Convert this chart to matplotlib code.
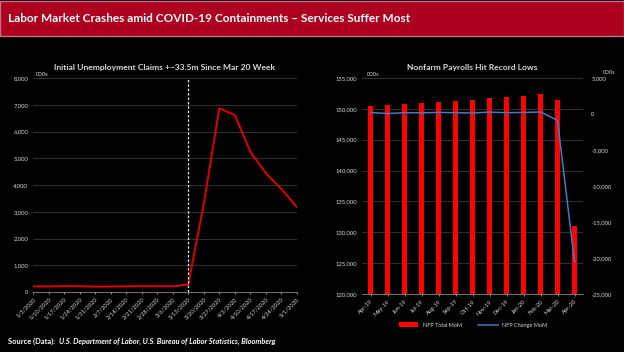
import matplotlib.pyplot as plt
from matplotlib.patches import Rectangle, Patch
from matplotlib.lines import Line2D
import numpy as np

plt.rcParams['font.family'] = ['Lato', 'DejaVu Sans']

# weekly initial claims, thousands
weeks = ["1/3/2020", "1/10/2020", "1/17/2020", "1/24/2020", "1/31/2020", "2/7/2020",
         "2/14/2020", "2/21/2020", "2/28/2020", "3/6/2020", "3/13/2020", "3/20/2020",
         "3/27/2020", "4/3/2020", "4/10/2020", "4/17/2020", "4/24/2020", "5/1/2020"]
claims = [212, 207, 223, 216, 201, 204, 210, 219, 217, 211, 282, 3307,
          6867, 6615, 5237, 4442, 3846, 3169]

# nonfarm payrolls, thousands
months = ["Apr-19", "May-19", "Jun-19", "Jul-19", "Aug-19", "Sep-19", "Oct-19",
          "Nov-19", "Dec-19", "Jan-20", "Feb-20", "Mar-20", "Apr-20"]
nfp_total = [150400, 150600, 150800, 150900, 151100, 151300, 151500,
             151700, 151900, 152100, 152400, 151500, 131000]
nfp_change = [216, 62, 178, 166, 219, 180, 136, 261, 184, 214, 275, -881, -20537]

BG = "black"
TXT = "#d9d9d9"
GRID = "#3a3a3a"

fig = plt.figure(figsize=(6.24, 3.52), dpi=100, facecolor=BG)

# title banner
fig.patches.append(Rectangle((0, 1 - 35.5 / 352), 1, 35 / 352, transform=fig.transFigure,
                             facecolor="#ad0020", edgecolor="#c07080", linewidth=1.0))
fig.text(8 / 624, 1 - 18 / 352, "Labor Market Crashes amid COVID-19 Containments \u2013 Services Suffer Most",
         color="white", fontsize=8.5, fontweight="bold", va="center", ha="left")


def style(ax):
    ax.set_facecolor(BG)
    for s in ax.spines.values():
        s.set_visible(False)
    ax.spines["bottom"].set_visible(True)
    ax.spines["bottom"].set_color("#8a8a8a")
    ax.spines["bottom"].set_linewidth(0.6)
    ax.tick_params(colors=TXT, labelsize=4.2, length=0)
    ax.yaxis.grid(True, color=GRID, linewidth=0.6)
    ax.set_axisbelow(True)


fmt = plt.FuncFormatter(lambda v, p: f"{v:,.0f}")

# left: initial claims
ax1 = fig.add_axes([33 / 624, 1 - 292 / 352, 264 / 624, 214 / 352])
style(ax1)
x = np.arange(len(weeks))
ax1.plot(x, claims, color="#e00000", linewidth=1.4)
ax1.axvline(10, color="#e8ecf4", linestyle=(0, (2, 1.5)), linewidth=0.9)
ax1.set_xlim(0, len(weeks) - 1)
ax1.set_ylim(0, 8000)
ax1.set_yticks(np.arange(0, 8001, 1000))
ax1.yaxis.set_major_formatter(fmt)
ax1.set_xticks(x)
ax1.set_xticklabels(weeks, rotation=45, ha="right", rotation_mode="anchor")
ax1.tick_params(axis="x", length=1.5, color="#8a8a8a", pad=2)
ax1.set_title("Initial Unemployment Claims +~33.5m Since Mar 20 Week", color=TXT,
              fontsize=6.1, fontweight="bold", pad=6)
ax1.text(0.01, 1.005, "000s", transform=ax1.transAxes, color=TXT, fontsize=4.2,
         va="bottom", ha="left")

# right: payrolls
ax2 = fig.add_axes([362 / 624, 1 - 294 / 352, 221 / 624, 216 / 352])
style(ax2)
xm = np.arange(len(months))
ax2.bar(xm, nfp_total, width=0.32, color="#ff0000")
ax2.set_ylim(120000, 155000)
ax2.set_xlim(-0.5, len(months) - 0.5)
ax2.set_yticks(np.arange(120000, 155001, 5000))
ax2.yaxis.set_major_formatter(fmt)
ax2.set_xticks(xm)
ax2.set_xticklabels(months, rotation=45, ha="right", rotation_mode="anchor")
ax2.tick_params(axis="x", length=1.5, color="#8a8a8a", pad=2)
ax2.set_title("Nonfarm Payrolls Hit Record Lows", color=TXT, fontsize=6.1,
              fontweight="bold", pad=6)
ax2.text(0.02, 1.005, "000s", transform=ax2.transAxes, color=TXT, fontsize=4.2,
         va="bottom", ha="left")

ax3 = ax2.twinx()
for s in ax3.spines.values():
    s.set_visible(False)
ax3.plot(xm, nfp_change, color="#4a78c0", linewidth=1.1)
ax3.set_ylim(-25000, 5000)
ax3.set_yticks(np.arange(-25000, 5001, 5000))
ax3.yaxis.set_major_formatter(fmt)
ax3.tick_params(colors=TXT, labelsize=4.2, length=0, pad=6)
ax3.text(1.09, 1.015, "000s", transform=ax3.transAxes, color=TXT, fontsize=4.2,
         va="bottom", ha="left")

handles = [Patch(facecolor="#ff0000", label="NFP Total MoM"),
           Line2D([], [], color="#4a78c0", linewidth=1.1, label="NFP Change MoM")]
fig.legend(handles=handles, loc="center", bbox_to_anchor=(473 / 624, 1 - 325 / 352),
           ncol=2, frameon=False, fontsize=4, labelcolor=TXT, handlelength=3.5,
           handleheight=0.8, columnspacing=3)

fig.text(8 / 624, 1 - 341 / 352, "Source (Data): ", color="white", fontsize=5.4,
         fontweight="bold", va="center", ha="left")
fig.text(59 / 624, 1 - 341 / 352,
         "U.S. Department of Labor, U.S. Bureau of Labor Statistics, Bloomberg",
         color="white", fontsize=5.4, fontweight="bold", style="italic", va="center", ha="left")

fig.savefig("out.png", dpi=100, facecolor=BG)
